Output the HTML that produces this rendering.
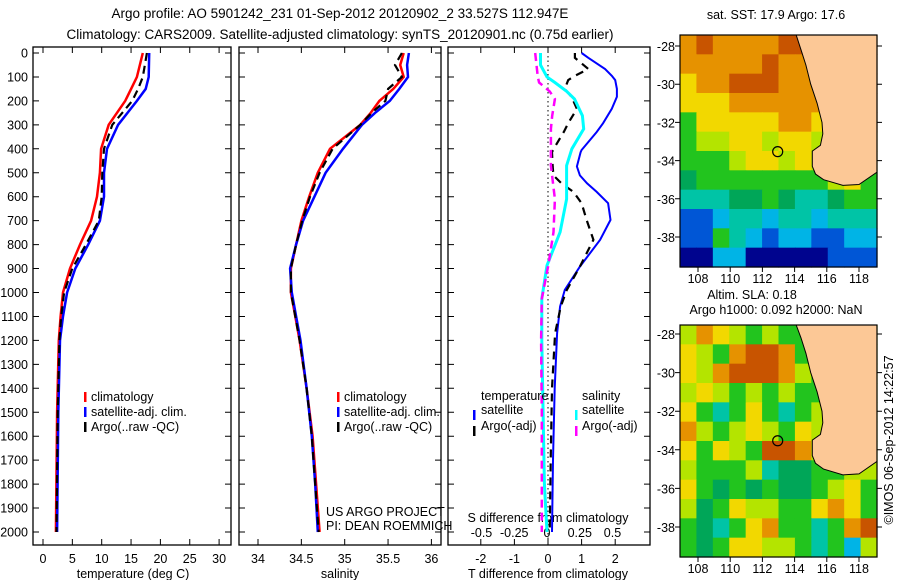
<!DOCTYPE html>
<html><head><meta charset="utf-8"><style>
html,body{margin:0;padding:0;background:#fff}
svg{display:block}
text{font-family:"Liberation Sans",sans-serif;font-size:12.5px;fill:#000}
</style></head><body>
<svg id="fig" width="900" height="580" viewBox="0 0 900 580" xmlns="http://www.w3.org/2000/svg">
<text x="340" y="18" text-anchor="middle" style="font-size:13.5px">Argo profile: AO 5901242_231 01-Sep-2012 20120902_2 33.527S 112.947E</text>
<text x="340" y="39" text-anchor="middle" style="font-size:13.5px">Climatology: CARS2009. Satellite-adjusted climatology: synTS_20120901.nc (0.75d earlier)</text>
<g id="g1"></g>
<g id="g2"></g>
<g id="g3"></g>
<g id="m1"></g>
<g id="m2"></g>
<text x="776" y="19" text-anchor="middle">sat. SST: 17.9 Argo: 17.6</text>
<text x="752" y="299" text-anchor="middle">Altim. SLA: 0.18</text>
<text x="776" y="314" text-anchor="middle">Argo h1000: 0.092 h2000: NaN</text>
<text transform="translate(893,440) rotate(-90)" text-anchor="middle">©IMOS 06-Sep-2012 14:22:57</text>
</svg>
<script>
// ---------- data ----------
const depthTicks=[0,100,200,300,400,500,600,700,800,900,1000,1100,1200,1300,1400,1500,1600,1700,1800,1900,2000];
const tDepth=[0,100,150,200,300,400,500,600,700,800,900,1000,1100,1200,1500,2000];
const tClim=[17.0,16.0,15.0,14.0,11.2,9.9,9.7,9.2,8.2,6.3,4.6,3.4,3.0,2.7,2.4,2.2];
const tSat=[18.1,18.0,17.5,16.0,12.8,10.9,10.4,10.4,9.7,7.7,5.5,4.1,3.4,2.9,2.6,2.4];
const tArgo=[17.7,17.0,16.2,15.2,11.8,10.4,10.1,10.0,9.5,7.3,5.0,3.6,3.1,2.8,2.5,2.3];
const tTicks=[0,5,10,15,20,25,30];
const sDepth=[0,50,100,150,200,250,300,400,500,600,700,800,900,1000,1100,1200,1400,1600,1800,2000];
const sClim=[35.68,35.64,35.68,35.56,35.40,35.30,35.18,34.83,34.69,34.59,34.50,34.44,34.38,34.38,34.43,34.48,34.56,34.63,34.67,34.71];
const sSat=[35.74,35.72,35.73,35.63,35.52,35.35,35.20,34.98,34.78,34.65,34.52,34.44,34.37,34.39,34.44,34.49,34.56,34.62,34.66,34.69];
const sArgo=[35.66,35.58,35.66,35.50,35.47,35.31,35.18,34.86,34.71,34.60,34.51,34.44,34.38,34.38,34.43,34.48,34.56,34.62,34.66,34.70];
const sTicks=[34,34.5,35,35.5,36];
const dDepth=[0,20,67,95,113,150,183,233,293,330,405,414,474,511,544,580,627,697,780,892,989,1058,1170,1400,1700,2000];
const dTSat=[1.0,1.2,1.7,1.9,2.0,2.05,2.05,1.9,1.64,1.45,1.0,0.97,0.86,0.95,1.16,1.45,1.79,1.86,1.55,0.95,0.5,0.36,0.27,0.2,0.15,0.12];
const dTArgo=[0.8,0.8,1.2,0.8,0.6,0.5,0.7,0.86,0.6,0.47,0.15,0.12,0.14,0.16,0.4,0.76,1.0,1.15,1.35,0.95,0.56,0.38,0.21,0.12,0.08,0.05];
const dSDepth=[0,50,100,123,160,192,262,317,400,470,610,748,887,1026,1200,1500,1800,2000];
const dSSat=[-0.05,-0.05,0.0,0.06,0.15,0.21,0.27,0.28,0.19,0.15,0.15,0.10,0.0,-0.04,-0.04,-0.03,-0.02,0.0];
const dSArgo=[-0.09,-0.08,-0.07,-0.06,0.02,0.06,0.04,0.03,0.03,0.03,0.06,0.05,0.01,-0.04,-0.045,-0.04,-0.04,-0.04];
const dTTicks=[-2,-1,0,1,2];
const dSTicks=[-0.5,-0.25,0,0.25,0.5];
const lonTicks=[108,110,112,114,116,118];
const latTicks=[-28,-30,-32,-34,-36,-38];
const sstRows=["OBOOOOBBOOOO","OOOOOBOOOOOO","YOOBBBOOOOOO","YYYOOOOOOOOO","GYYYYYOOYOOO","GLLYYLYYLYYY","GGGLYYLYLYYY","gGGGGGGGGLYG","TTTggGgTTgGG","UUCTTCTTCTTT","UUGTCUCCUUCC","NNCCNNNNNUUU"];
const slaRows=["LOYLGLGGLLLL","YLGOBBOGLLLL","YLOBBBOLGLLL","LYLGLGLGGLLL","YGTGYGTGLGLL","OLGLYLGYLLLL","YGYLGBBOLGLL","LGGGLTggGGLL","YGgGgGggGLYG","LgGYLLGGYOYG","GgTGYOGGTGOB","GgGYYLLGTGCL"];
const coastLon=[114.1,114.4,114.7,115.0,115.4,115.7,115.75,115.6,115.1,115.1,115.3,115.8,117.0,118.0,119.2,119.2];
const coastLat=[-27.4,-28.2,-29.0,-30.0,-31.0,-32.0,-32.6,-33.2,-33.5,-34.3,-34.7,-35.0,-35.3,-35.25,-34.6,-27.4];
const argoLon=112.95, argoLat=-33.53;
// ---------- helpers ----------
const NS='http://www.w3.org/2000/svg';
function mk(tag,attrs,parent){const e=document.createElementNS(NS,tag);for(const k in attrs)e.setAttribute(k,attrs[k]);parent.appendChild(e);return e;}
const Y0=53, DY=0.2395;
const yD=d=>Y0+d*DY;
function panel(g,x0,x1,top,bot){
  const r=mk('rect',{x:x0,y:top,width:x1-x0,height:bot-top,fill:'none',stroke:'#000','stroke-width':1.3},g);
  
  
  depthTicks.forEach(d=>{
    const t=mk('path',{d:`M${x0},${yD(d)}h6M${x1},${yD(d)}h-6`,stroke:'#000','stroke-width':1},g);
    
    
  });
}
function line(g,xs,ds,fx,color,dash,w,name){
  const p=xs.map((v,i)=>(i?'L':'M')+fx(v).toFixed(1)+','+yD(ds[i]).toFixed(1)).join('');
  const e=mk('path',{d:p,fill:'none',stroke:color,'stroke-width':w||2.5},g);
  if(dash)e.setAttribute('stroke-dasharray',dash);
  
  
}
function txt(g,x,y,s,anchor,name){
  const e=mk('text',{x:x,y:y,'text-anchor':anchor||'start'},g);e.textContent=s;
  
  
  return e;
}
function legBar(g,x,y,c,name){
  const e=mk('rect',{x:x,y:y-10,width:2.5,height:10,fill:c},g);
  
  
}
const TOP=47,BOT=545;
// ---------- panel 1 ----------
const g1=document.getElementById('g1');
const xT=v=>43+v*5.87;
panel(g1,33,231,TOP,BOT);
depthTicks.forEach(d=>txt(g1,28,yD(d)+4.5,String(d),'end','depth-tick-label'));
tTicks.forEach(v=>{mk('path',{d:`M${xT(v)},${BOT}v-6M${xT(v)},${TOP}v6`,stroke:'#000'},g1);txt(g1,xT(v),563,String(v),'middle','temp-tick-label');});
txt(g1,133,578,'temperature (deg C)','middle','x-axis-title-temperature');
line(g1,tClim,tDepth,xT,'#f00',null,2.5,'temp-climatology-line');
line(g1,tSat,tDepth,xT,'#00f',null,2.5,'temp-satellite-line');
line(g1,tArgo,tDepth,xT,'#000','8,5',2.2,'temp-argo-line');
legBar(g1,84,402,'#f00','legend-climatology-swatch');txt(g1,91,401,'climatology','start','legend-climatology');
legBar(g1,84,417,'#00f','legend-satellite-swatch');txt(g1,91,416,'satellite-adj. clim.','start','legend-satellite');
legBar(g1,84,432,'#000','legend-argo-swatch');txt(g1,91,431,'Argo(..raw -QC)','start','legend-argo');
// ---------- panel 2 ----------
const g2=document.getElementById('g2');
const xS=v=>258+(v-34)*86.7;
panel(g2,239,441,TOP,BOT);
sTicks.forEach(v=>{mk('path',{d:`M${xS(v)},${BOT}v-6M${xS(v)},${TOP}v6`,stroke:'#000'},g2);txt(g2,xS(v),563,String(v),'middle','sal-tick-label');});
txt(g2,340,578,'salinity','middle','x-axis-title-salinity');
line(g2,sClim,sDepth,xS,'#f00',null,2.5,'sal-climatology-line');
line(g2,sSat,sDepth,xS,'#00f',null,2.5,'sal-satellite-line');
line(g2,sArgo,sDepth,xS,'#000','8,5',2.2,'sal-argo-line');
legBar(g2,337,402,'#f00','legend-climatology-swatch');txt(g2,344,401,'climatology','start','legend-climatology');
legBar(g2,337,417,'#00f','legend-satellite-swatch');txt(g2,344,416,'satellite-adj. clim.','start','legend-satellite');
legBar(g2,337,432,'#000','legend-argo-swatch');txt(g2,344,431,'Argo(..raw -QC)','start','legend-argo');
txt(g2,326,516,'US ARGO PROJECT','start','project-credit');
txt(g2,326,530,'PI: DEAN ROEMMICH','start','pi-credit');
// ---------- panel 3 ----------
const g3=document.getElementById('g3');
const xDT=v=>548+v*33.6;
const xDS=v=>547+v*131;
panel(g3,448,650,TOP,BOT);
const zl=mk('line',{x1:548,y1:TOP,x2:548,y2:BOT,stroke:'#000','stroke-dasharray':'1.5,3'},g3);


dTTicks.forEach(v=>{mk('path',{d:`M${xDT(v)},${BOT}v-6M${xDT(v)},${TOP}v6`,stroke:'#000'},g3);txt(g3,xDT(v),563,String(v),'middle','tdiff-tick-label');});
txt(g3,548,578,'T difference from climatology','middle','x-axis-title-tdiff');
dSTicks.forEach(v=>txt(g3,xDS(v),537,String(v),'middle','sdiff-tick-label'));
txt(g3,548,522,'S difference from climatology','middle','sdiff-axis-title');
line(g3,dTSat,dDepth,xDT,'#00f',null,2,'tdiff-satellite-line');
line(g3,dTArgo,dDepth,xDT,'#000','8,6',2.2,'tdiff-argo-line');
line(g3,dSSat,dSDepth,xDS,'#0ff',null,3,'sdiff-satellite-line');
line(g3,dSArgo,dSDepth,xDS,'#f0f','8,5',2.5,'sdiff-argo-line');
txt(g3,481,400,'temperature','start','legend-temperature-header');
legBar(g3,473,420,'#00f','legend-tsat-swatch');txt(g3,481,414,'satellite','start','legend-tsat');
legBar(g3,473,436,'#000','legend-targo-swatch');txt(g3,481,430,'Argo(-adj)','start','legend-targo');
txt(g3,582,400,'salinity','start','legend-salinity-header');
legBar(g3,575,420,'#0ff','legend-ssat-swatch');txt(g3,582,414,'satellite','start','legend-ssat');
legBar(g3,575,436,'#f0f','legend-sargo-swatch');txt(g3,582,430,'Argo(-adj)','start','legend-sargo');
// ---------- maps ----------
const PAL={B:'#c85400',O:'#e69200',Y:'#f2d800',L:'#b4e400',G:'#22c41e',g:'#00a658',T:'#00c4a6',C:'#00b4e6',U:'#0056d6',N:'#00048e'};
function map(g,top,bot,latTop,rows){
  const x0=680,x1=877;
  const lx=lo=>698+(lo-108)*16.1;
  const ly=la=>latTop+(-28-la)*(bot===267?19.1:19.3);
  const cw=(x1-x0)/12, ch=(bot-top)/12;
  rows.forEach((r,i)=>r.split('').forEach((c,j)=>{
    const e=mk('rect',{x:x0+j*cw,y:top+i*ch,width:cw+0.6,height:ch+0.6,fill:PAL[c]},g);
    
    
  }));
  const pts=coastLon.map((lo,i)=>lx(lo).toFixed(1)+','+Math.max(top,ly(coastLat[i])).toFixed(1));
  pts[pts.length-1]=x1+','+top; pts[pts.length-2]=x1+','+ly(-34.6).toFixed(1);
  const land=mk('polygon',{points:pts.join(' '),fill:'#fcc896',stroke:'#000','stroke-width':1},g);
  
  
  const c=mk('circle',{cx:lx(argoLon),cy:ly(argoLat),r:5,fill:'none',stroke:'#000','stroke-width':1.2},g);
  
  
  const f=mk('rect',{x:x0,y:top,width:x1-x0,height:bot-top,fill:'none',stroke:'#000','stroke-width':1.2},g);
  
  
  lonTicks.forEach(lo=>{mk('path',{d:`M${lx(lo)},${bot}v5`,stroke:'#000'},g);txt(g,lx(lo),bot+16,String(lo),'middle','lon-tick-label');});
  latTicks.forEach(la=>{mk('path',{d:`M${x0},${ly(la)}h-5M${x1},${ly(la)}h5`,stroke:'#000'},g);txt(g,675,ly(la)+5,String(la),'end','lat-tick-label');});
}
map(document.getElementById('m1'),35,267,46,sstRows);
map(document.getElementById('m2'),325,557,334,slaRows);
</script>
</body></html>
